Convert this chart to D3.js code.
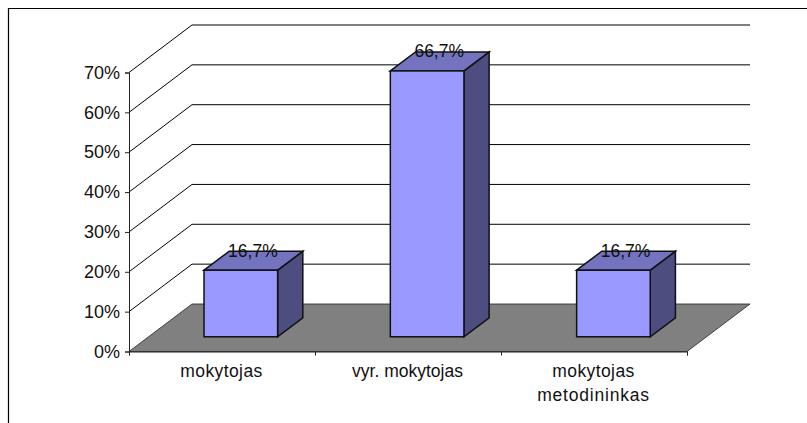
<!DOCTYPE html>
<html><head><meta charset="utf-8">
<script src="https://cdn.jsdelivr.net/npm/d3@7/dist/d3.min.js"></script>
<style>html,body{margin:0;padding:0;background:#fff}svg{display:block}
text{font-family:"Liberation Sans",Arial,sans-serif;fill:#111}</style>
</head><body><svg id="c" width="807" height="423"></svg>
<script>
const categories = [["mokytojas"], ["vyr. mokytojas"], ["mokytojas", "metodininkas"]];
const values = [0.167, 0.667, 0.167];
const valueLabels = ["16,7%", "66,7%", "16,7%"];
const yTicks = [0, 0.1, 0.2, 0.3, 0.4, 0.5, 0.6, 0.7];

const svg = d3.select("#c");
const x0 = 129, x1 = 687, y0 = 351.5, y7 = 72.5;
const depthX = 63, depthY = -47.5, barDepth = 0.31, barThick = 0.4;
const y = d3.scaleLinear().domain([0, 0.7]).range([y0, y7]);
const x = d3.scaleBand().domain(d3.range(categories.length)).range([x0, x1]).paddingInner(0.605).paddingOuter(0.3);
const poly = p => p.map(d => d.join(",")).join(" ");

// frame
svg.append("path").attr("d", "M8.5,423V8.5H807").attr("fill", "none").attr("stroke", "#000").attr("stroke-width", 1.2);

// floor
svg.append("polygon").attr("fill", "#808080").attr("stroke", "#222").attr("stroke-width", 0.8)
  .attr("points", poly([[x0, y0], [x0 + depthX, y0 + depthY], [x1 + depthX, y0 + depthY], [x1, y0]]));

// walls
svg.append("g").selectAll("path").data(yTicks.slice(1)).join("path")
  .attr("fill", "none").attr("stroke", "#000").attr("stroke-width", 1)
  .attr("d", d => `M${x0},${y(d)}L${x0 + depthX},${y(d) + depthY}H${x1 + depthX}`);

// axes
const yAxis = d3.axisLeft(y).tickValues(yTicks).tickFormat(d3.format(".0%")).tickSize(4).tickPadding(5);
const gy = svg.append("g").attr("transform", `translate(${x0},0)`).call(yAxis);
const xEdges = d3.scaleLinear().domain([0, 3]).range([x0, x1]);
const xAxis = d3.axisBottom(xEdges).tickValues([0, 1, 2, 3]).tickFormat("").tickSize(4);
const gx = svg.append("g").attr("transform", `translate(0,${y0})`).call(xAxis);
svg.selectAll(".domain,.tick line").attr("stroke", "#222");
gy.selectAll("text").attr("font-size", 18).attr("fill", "#111");

// bars
const bw = x.bandwidth(), dxB = depthX * barDepth, dyB = depthY * barDepth;
const tx = depthX * barThick, ty = depthY * barThick;
const bars = svg.append("g").selectAll("g").data(values).join("g");
const base = y0 + dyB;
const L = i => x(i) + dxB - 0.4, top_ = d => base - (y0 - y(d));
const st = s => s.attr("stroke", "#111").attr("stroke-width", 1.5).attr("stroke-linejoin", "miter");
bars.append("polygon").attr("fill", "#4D4D80").call(st)
  .attr("points", (d, i) => poly([[L(i) + bw, top_(d)], [L(i) + bw + tx, top_(d) + ty], [L(i) + bw + tx, base + ty], [L(i) + bw, base]]));
bars.append("polygon").attr("fill", "#7373BF").call(st)
  .attr("points", (d, i) => poly([[L(i), top_(d)], [L(i) + tx, top_(d) + ty], [L(i) + bw + tx, top_(d) + ty], [L(i) + bw, top_(d)]]));
bars.append("rect").attr("fill", "#9999FF").call(st)
  .attr("x", (d, i) => L(i)).attr("y", d => top_(d)).attr("width", bw).attr("height", d => base - top_(d));

// value labels
bars.append("text").attr("text-anchor", "middle").attr("font-size", 17.5)
  .attr("x", (d, i) => L(i) + bw / 2 + tx / 2 - 0.5)
  .attr("y", d => top_(d) + ty / 2 - 4)
  .text((d, i) => valueLabels[i]);

// category labels
svg.append("g").selectAll("text").data(categories).join("text")
  .attr("text-anchor", "middle").attr("font-size", 17.5)
  .attr("transform", (d, i) => `translate(${xEdges(i + 0.5) - 0.5},${y0 + 25.5})`)
  .selectAll("tspan").data(d => d).join("tspan")
  .attr("x", 0).attr("dy", (d, i) => i ? 24 : 0)
  .attr("letter-spacing", d => d.startsWith("vyr") ? 0 : (d === "metodininkas" ? 0.8 : 0.4))
  .text(d => d);
</script></body></html>
